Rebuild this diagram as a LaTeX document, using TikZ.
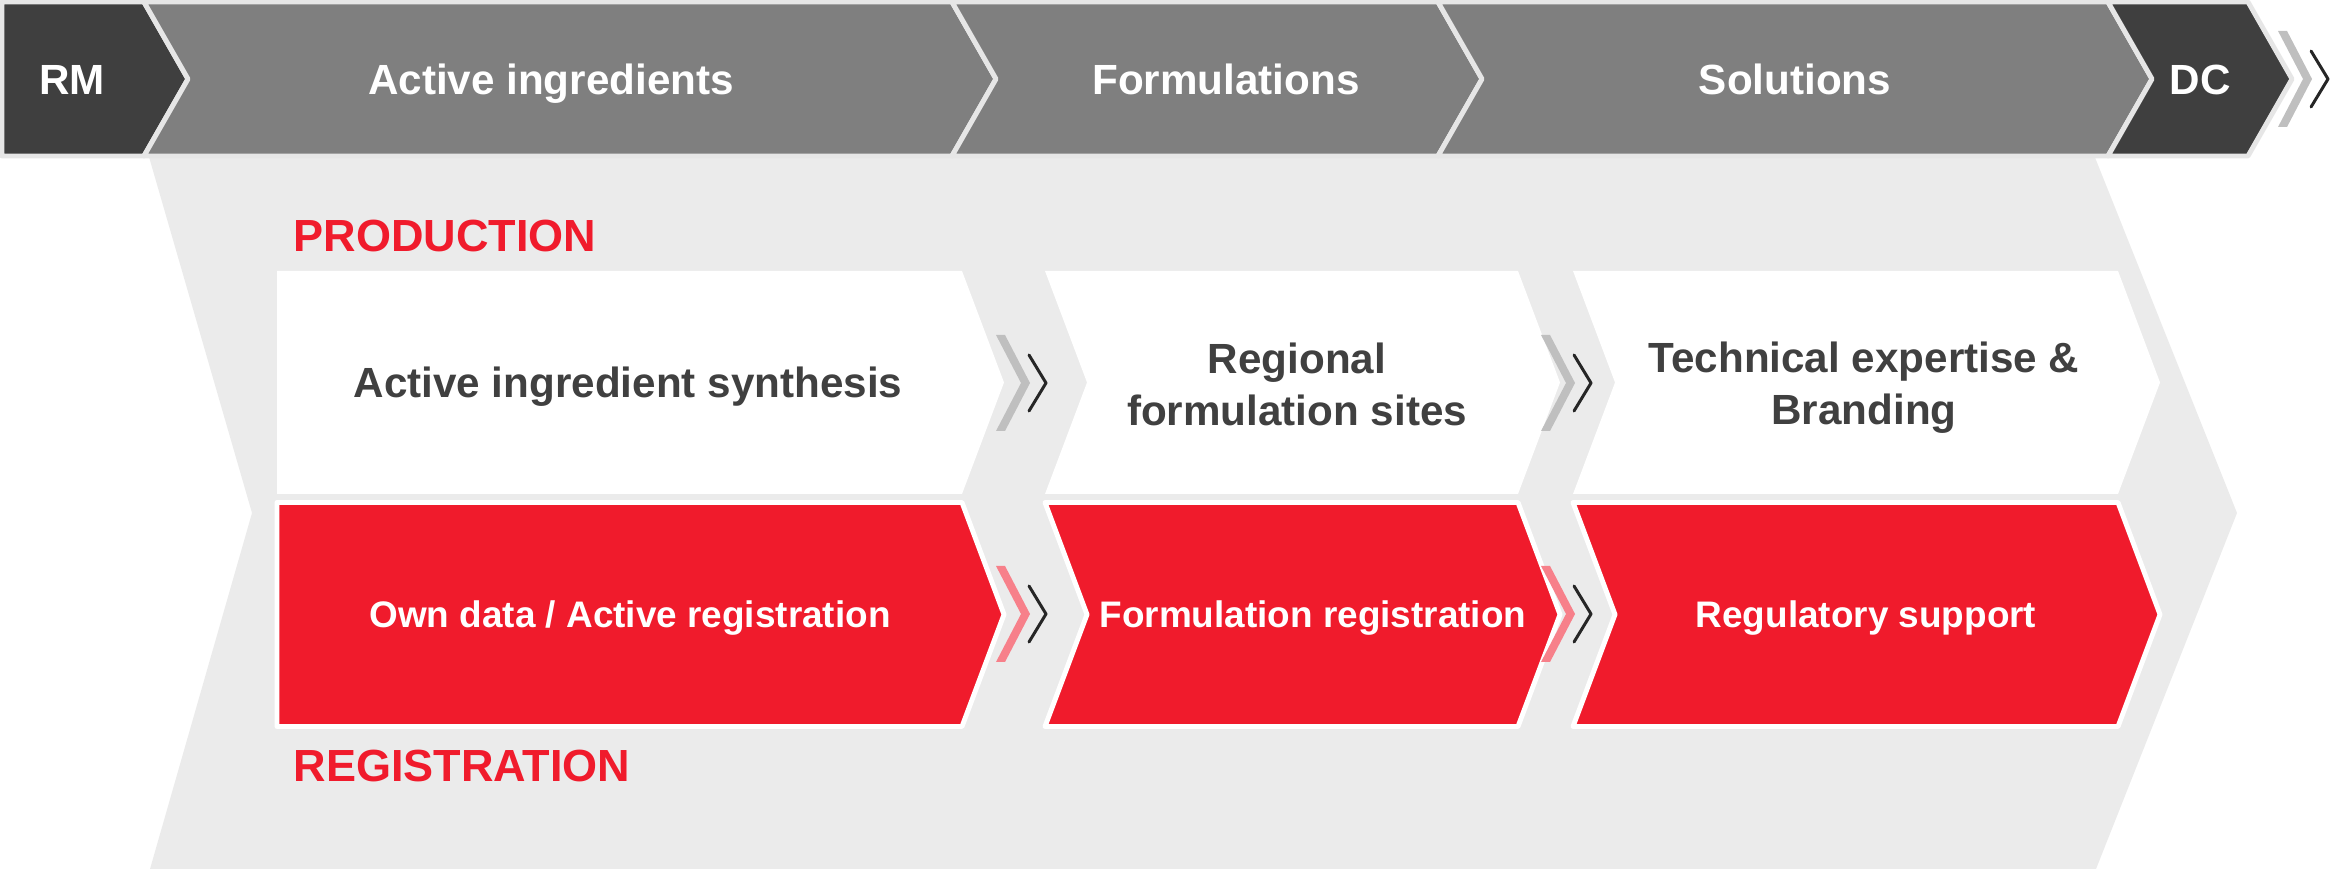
\documentclass[tikz,border=0pt]{standalone}
\usepackage{fontspec}
\setmainfont{Liberation Sans}
\definecolor{bglight}{HTML}{EBEBEB}
\definecolor{bandline}{HTML}{E6E6E6}
\definecolor{darkbox}{HTML}{3F3F3F}
\definecolor{midbox}{HTML}{7F7F7F}
\definecolor{boxred}{HTML}{F01B2C}
\definecolor{chevgrey}{HTML}{BFBFBF}
\definecolor{chevpink}{HTML}{F7808A}
\definecolor{chevblack}{HTML}{262626}
\definecolor{textdark}{HTML}{404040}

\begin{document}
\begin{tikzpicture}[line cap=round,line join=round,x=0.01cm,y=-0.01cm,
    toplabel/.style={anchor=base,inner sep=0pt,text=white,font=\bfseries\fontsize{12}{14.8}\selectfont},
    boxlabel/.style={anchor=base,inner sep=0pt,text=textdark,font=\bfseries\fontsize{12}{14.8}\selectfont},
    redlabel/.style={anchor=base,inner sep=0pt,text=white,font=\bfseries\fontsize{10.5}{12.6}\selectfont},
    headlabel/.style={anchor=base west,inner sep=0pt,text=boxred,font=\bfseries\fontsize{12.8}{15}\selectfont}]
        \useasboundingbox (0,0) rectangle (2331,871);
        % big grey arrow behind the two rows
        \fill[color=bglight] (147,150) -- (2092,150) -- (2237,513) -- (2096,869) -- (150,869) -- (252,513) -- cycle;
        % value chain band
        \filldraw[fill=darkbox,draw=bandline,line width=1.4pt] (2,2) -- (144,2) -- (188,79) -- (144,156) -- (2,156) -- cycle;
        \foreach \xl/\xr/\col in {144/952/midbox,952/1438/midbox,1438/2108/midbox,2108/2248/darkbox}
        \filldraw[fill=\col,draw=bandline,line width=1.4pt] (\xl,2) -- (\xr,2) -- (\xr+44,79) -- (\xr,156) -- (\xl,156) -- (\xl+44,79) -- cycle;
        % production and registration boxes
        \foreach \xl/\n/\xr in {277/0/962,1045/42/1518,1573/42/2118} {
            \fill[color=white] (\xl,271) -- (\xr,271) -- (\xr+42,382.5) -- (\xr,494) -- (\xl,494) -- (\xl+\n,382.5) -- cycle;
            \filldraw[fill=boxred,draw=white,line width=1.4pt] (\xl,502.5) -- (\xr,502.5) -- (\xr+42,614.5) -- (\xr,726.5) -- (\xl,726.5) -- (\xl+\n,614.5) -- cycle;
        }
        % double chevrons
        \foreach \x/\y/\col in {2278/79/chevgrey,996/383/chevgrey,1541/383/chevgrey,996/614/chevpink,1541/614/chevpink} {
            \fill[shift={(\x,\y)},color=\col] (0,-48) -- (9,-48) -- (34,0) -- (9,48) -- (0,48) -- (25,0) -- cycle;
            \draw[shift={(\x,\y)},color=chevblack,line width=0.85pt] (33,-28) -- (50,0) -- (33,28);
        }
        % texts
        \node[toplabel] (rm) at (72,95) {RM};
        \node[toplabel] (actband) at (551,95) {Active ingredients};
        \node[toplabel] (formband) at (1226,95) {Formulations};
        \node[toplabel] (solband) at (1795,95) {Solutions};
        \node[toplabel] (dc) at (2200,95) {DC};
        \node[headlabel] (prod) at (293,252) {PRODUCTION};
        \node[headlabel] (reg) at (293,782) {REGISTRATION};
        \node[boxlabel] (synth) at (628,398) {Active ingredient synthesis};
        \node[boxlabel,anchor=center,align=center] (regional) at (1297,384) {Regional\\formulation sites};
        \node[boxlabel,anchor=center,align=center] (tech) at (1864,388) {Technical expertise \&\\Branding};
        \node[redlabel] (own) at (630,628) {Own data / Active registration};
        \node[redlabel] (formreg) at (1313,628) {Formulation registration};
        \node[redlabel] (regsup) at (1866,628) {Regulatory support};
\end{tikzpicture}
\end{document}
